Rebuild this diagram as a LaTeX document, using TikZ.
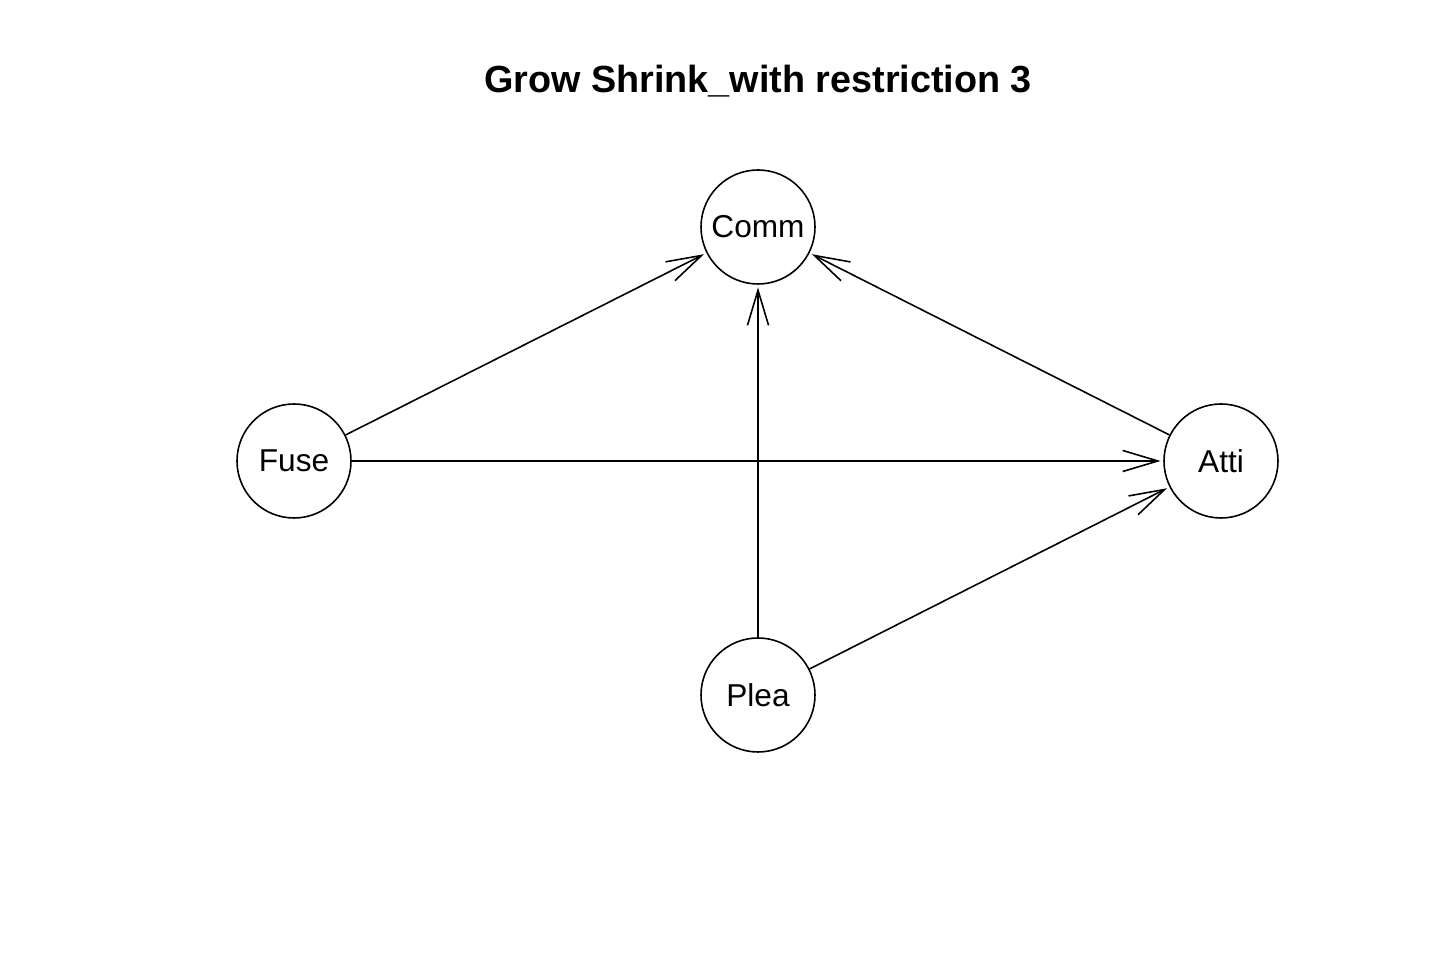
\documentclass[tikz,border=0pt]{standalone}
\usepackage{fontspec}
\setmainfont{Liberation Sans}
\usetikzlibrary{arrows.meta}
\tikzset{%
  var/.style   = {draw, circle, line width=0.9pt, minimum size=2.28cm,
    inner sep=0pt, font=\fontsize{18}{20}\selectfont}, % Variable
  edge/.style  = {line width=0.9pt, shorten >=1.5pt,
    -{Straight Barb[length=20pt, width=12pt, line width=0.9pt]}}, % Edge
  heading/.style = {font=\bfseries\fontsize{21.5}{24}\selectfont}
}
\begin{document}
\begin{tikzpicture}
\useasboundingbox (0,0) rectangle (28.8,19.2);
\node[heading] (title) at (15.16,17.58) {Grow Shrink\_with restriction 3};
\draw
	node[var] (Comm) at (15.16,14.66) {Comm}
	node[var] (Fuse) at (5.88,9.98)   {Fuse}
	node[var] (Atti) at (24.42,9.98)  {Atti}
	node[var] (Plea) at (15.16,5.30)  {Plea};
	\draw[edge] (Fuse) -- (Comm);
	\draw[edge] (Fuse) -- (Atti);
	\draw[edge] (Plea) -- (Comm);
	\draw[edge] (Plea) -- (Atti);
	\draw[edge] (Atti) -- (Comm);
\end{tikzpicture}
\end{document}
